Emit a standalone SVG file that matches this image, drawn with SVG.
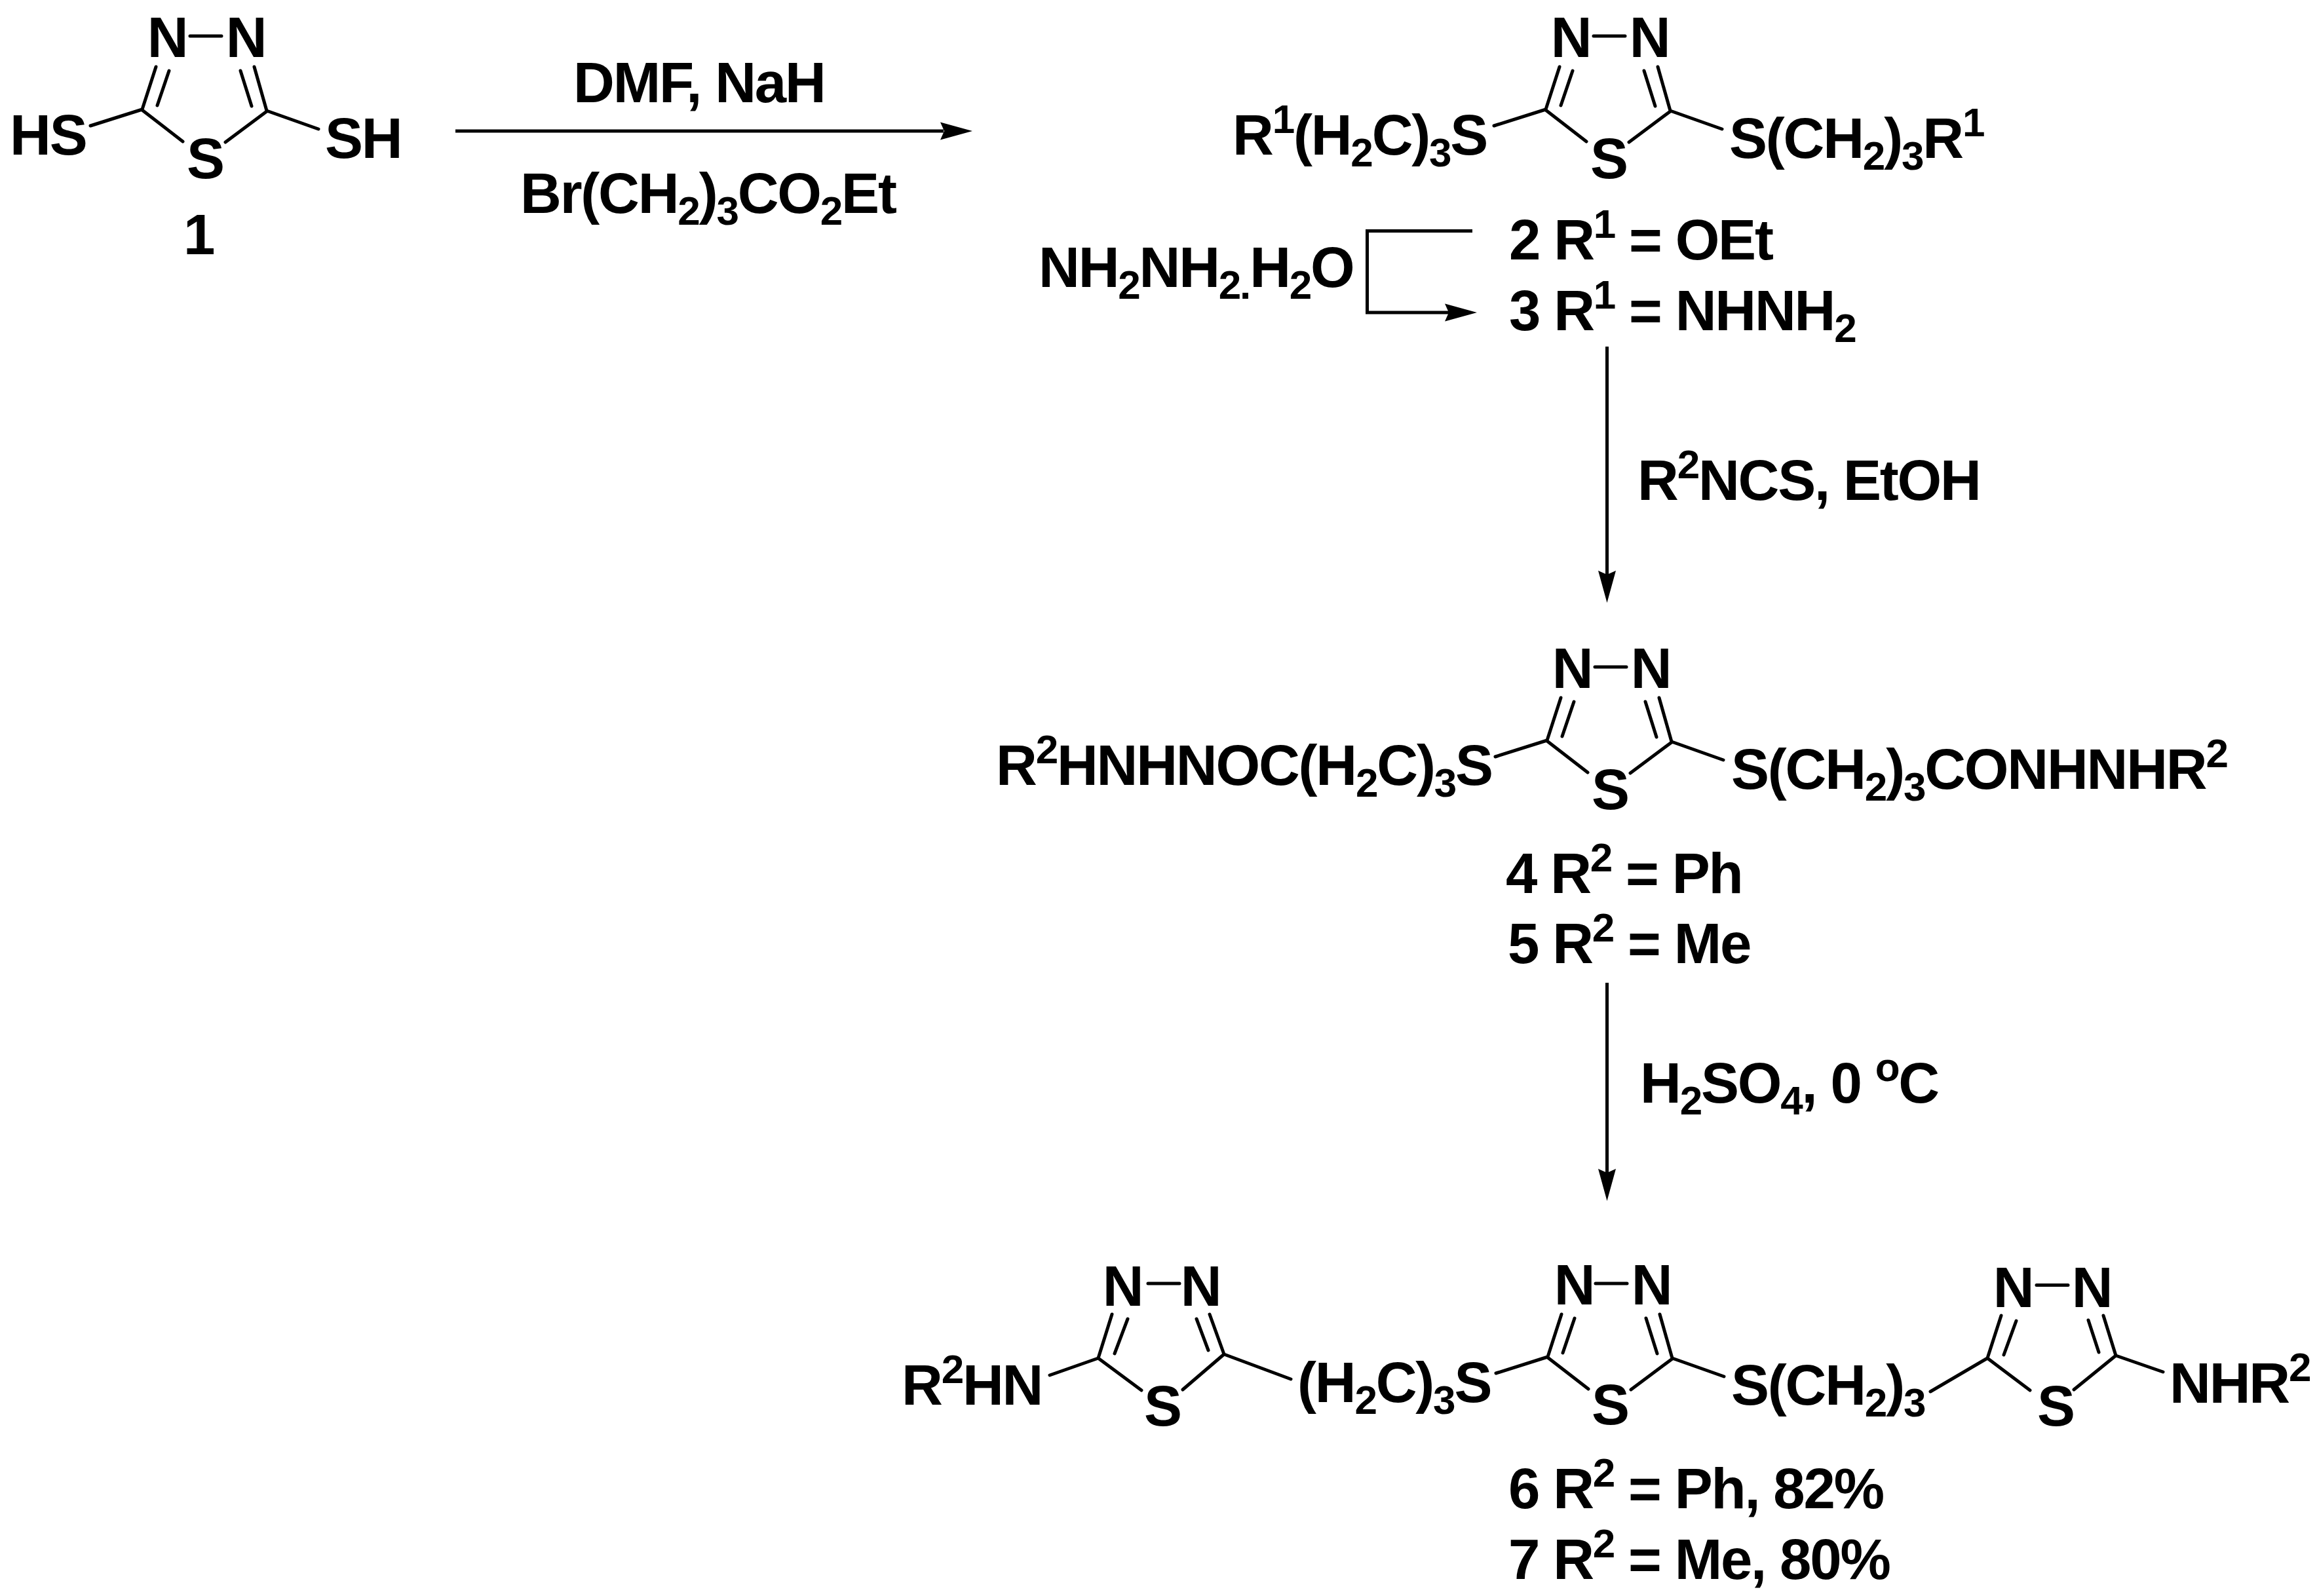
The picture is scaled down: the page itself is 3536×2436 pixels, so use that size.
<svg xmlns="http://www.w3.org/2000/svg" width="3536" height="2436" viewBox="0 0 3536 2436" xmlns:xlink="http://www.w3.org/1999/xlink">
<style>
text{font-family:"Liberation Sans",Arial,sans-serif;font-weight:700;font-size:87px;letter-spacing:-2.2px;fill:#000}
.m{text-anchor:middle}
.s{font-size:62px;baseline-shift:-18px}
.u{font-size:62px;baseline-shift:33px}
.b{fill:none;stroke:#000;stroke-width:5;stroke-linecap:round;stroke-linejoin:round}
.a{fill:none;stroke:#000;stroke-width:5}
.h{fill:#000;stroke:none}
</style>
<defs>
<path id="ring" class="b" d="M290 55H338M238 102L217 167M258 108L240 161M388 102L407 169M367 108L384 162M217 168L279 216M407 170L344 217M217 167L138 192M407 169L486 197"/>
<path id="head" class="h" d="M0 0L-13.500 -49L0 -43L13.500 -49Z"/>
</defs>
<rect width="3536" height="2436" fill="#fff"/>
<g id="connectors">
<path class="a" d="M695 200H1440"/>
<use xlink:href="#head" href="#head" transform="translate(1484 200) rotate(-90)"/>
<path class="a" d="M2247 352.500H2086.500V477H2215"/>
<use xlink:href="#head" href="#head" transform="translate(2254 477) rotate(-90)"/>
<path class="a" d="M2452.500 529V878"/>
<use xlink:href="#head" href="#head" transform="translate(2452.500 920)"/>
<path class="a" d="M2452.500 1500V1790"/>
<use xlink:href="#head" href="#head" transform="translate(2452.500 1833)"/>
</g>
<g id="compound-1">
<use xlink:href="#ring" href="#ring"/>
<text class="m" x="255" y="87">N</text><text class="m" x="375" y="87">N</text><text class="m" x="313" y="272">S</text>
<text x="15" y="236">HS</text><text x="496" y="241">SH</text>
<text class="m" x="303" y="388">1</text>
</g>
<g id="reagents-1">
<text x="875" y="156">DMF, NaH</text>
<text x="794" y="325">Br(CH<tspan class="s">2</tspan>)<tspan class="s">3</tspan>CO<tspan class="s">2</tspan>Et</text>
</g>
<g id="compound-2-3">
<use xlink:href="#ring" href="#ring" transform="translate(2142 0)"/>
<text class="m" x="2397" y="87">N</text><text class="m" x="2517" y="87">N</text><text class="m" x="2455" y="272">S</text>
<text x="1881" y="236">R<tspan class="u">1</tspan>(H<tspan class="s">2</tspan>C)<tspan class="s">3</tspan>S</text>
<text x="2639" y="241">S(CH<tspan class="s">2</tspan>)<tspan class="s">3</tspan>R<tspan class="u">1</tspan></text>
<text x="2303" y="396">2 R<tspan class="u">1</tspan> = OEt</text>
<text x="2303" y="503.500">3 R<tspan class="u">1</tspan> = NHNH<tspan class="s">2</tspan></text>
</g>
<g id="reagent-hydrazine"><text x="1585" y="437.500">NH<tspan class="s">2</tspan>NH<tspan class="s">2.</tspan>H<tspan class="s">2</tspan>O</text></g>
<g id="reagent-r2ncs"><text x="2499" y="763">R<tspan class="u">2</tspan>NCS, EtOH</text></g>
<g id="compound-4-5">
<use xlink:href="#ring" href="#ring" transform="translate(2144 963)"/>
<text class="m" x="2399" y="1050">N</text><text class="m" x="2519" y="1050">N</text><text class="m" x="2457" y="1235">S</text>
<text x="1520" y="1198">R<tspan class="u">2</tspan>HNHNOC(H<tspan class="s">2</tspan>C)<tspan class="s">3</tspan>S</text>
<text x="2642" y="1203.500">S(CH<tspan class="s">2</tspan>)<tspan class="s">3</tspan>CONHNHR<tspan class="u">2</tspan></text>
<text x="2298" y="1362.500">4 R<tspan class="u">2</tspan> = Ph</text>
<text x="2301" y="1470">5 R<tspan class="u">2</tspan> = Me</text>
</g>
<g id="reagent-h2so4"><text x="2503" y="1683">H<tspan class="s">2</tspan>SO<tspan class="s">4</tspan>, 0 <tspan class="u">o</tspan>C</text></g>
<g id="compound-6-7">
<use xlink:href="#ring" href="#ring" transform="translate(2145 1904)"/>
<text class="m" x="2402" y="1991">N</text><text class="m" x="2520" y="1991">N</text><text class="m" x="2457" y="2174">S</text>
<path class="b" d="M1752 1959H1800M1697 2006L1676 2073M1721 2013L1701 2066M1846 2006L1868 2067M1826 2013L1844 2061M1676 2073L1742 2122M1868 2067L1805 2121M1676 2073L1602 2099M1868 2067L1970 2105"/>
<text class="m" x="1713" y="1993">N</text><text class="m" x="1832" y="1993">N</text><text class="m" x="1774" y="2176">S</text>
<path class="b" d="M3108 1961.500H3156M3054 2008L3033 2073M3077 2016L3058 2068M3210 2008L3229 2069M3187 2015L3203 2064M3033 2073L3098 2122M3229 2069L3165 2121M3033 2073L2946 2124M3229 2069L3301 2094"/>
<text class="m" x="3072" y="1995">N</text><text class="m" x="3192" y="1995">N</text><text class="m" x="3137" y="2176">S</text>
<text x="1376" y="2144">R<tspan class="u">2</tspan>HN</text>
<text x="1980" y="2140">(H<tspan class="s">2</tspan>C)<tspan class="s">3</tspan>S</text>
<text x="2642" y="2144">S(CH<tspan class="s">2</tspan>)<tspan class="s">3</tspan></text>
<text x="3311" y="2141">NHR<tspan class="u">2</tspan></text>
<text x="2302" y="2302">6 R<tspan class="u">2</tspan> = Ph, 82%</text>
<text x="2302" y="2410">7 R<tspan class="u">2</tspan> = Me, 80%</text>
</g>
</svg>
